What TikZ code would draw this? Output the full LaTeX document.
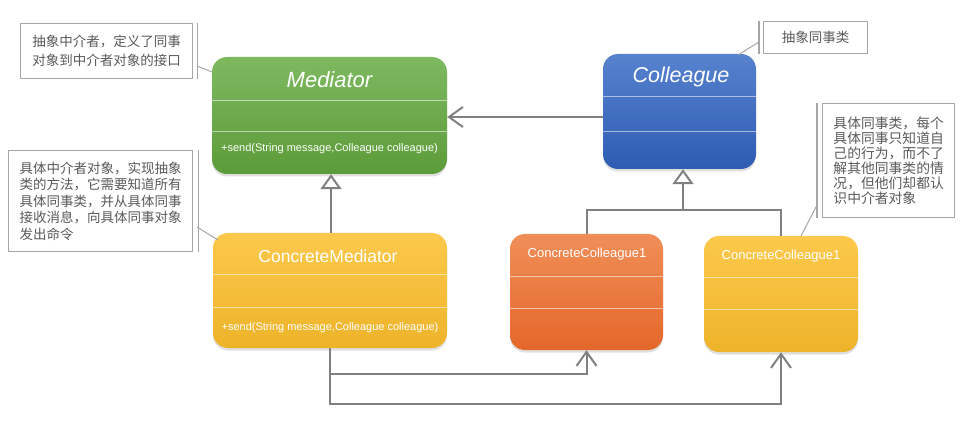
\documentclass[tikz,border=0pt]{standalone}
\usepackage{fontspec}
\setmainfont{Liberation Sans}
\newfontfamily\cjk{Noto Sans CJK SC}
\usetikzlibrary{arrows.meta,shadows}
\definecolor{greenT}{HTML}{7EB960}
\definecolor{greenB}{HTML}{5C9B39}
\definecolor{blueT}{HTML}{5682CE}
\definecolor{blueB}{HTML}{2E5CB2}
\definecolor{orangeT}{HTML}{F08E58}
\definecolor{orangeB}{HTML}{E5672A}
\definecolor{yellowT}{HTML}{FDC94C}
\definecolor{yellowB}{HTML}{EDB32A}
\definecolor{linegray}{HTML}{808080}
\definecolor{notegray}{HTML}{A6A6A6}
\definecolor{notetext}{HTML}{5A5A5A}
\tikzset{
  classbox/.style={rounded corners=15pt, inner sep=0pt,
    drop shadow={shadow xshift=0pt, shadow yshift=-2.5pt, opacity=0.25}},
  divider/.style={draw=white, draw opacity=0.55, line width=0.8pt},
  ctitle/.style={text=white, inner sep=0pt, anchor=center},
  conn/.style={draw=linegray, line width=2pt},
  assoc/.style={conn, -{Straight Barb[length=14pt, width=20pt, line width=2pt]}},
  inherit/.style={conn, -{Triangle[open, length=15pt, width=21pt, line width=2pt, fill=white]}},
  notebox/.style={draw=notegray, line width=1.3pt, fill=white, text=notetext,
    align=left, inner xsep=9pt, inner ysep=0pt, font=\cjk\fontsize{13.5}{19}\selectfont},
  bracket/.style={draw=notegray, line width=1.3pt},
  callout/.style={draw=notegray, line width=1pt},
}
\begin{document}
\begin{tikzpicture}[x=1pt,y=-1pt]
\useasboundingbox (0,0) rectangle (975,422);

% class boxes
\node[classbox, top color=greenT, bottom color=greenB, minimum width=235pt, minimum height=117pt] (med) at (329.5,115.5) {};
\node[classbox, top color=blueT, bottom color=blueB, minimum width=153pt, minimum height=115pt] (col) at (679.5,111.5) {};
\node[classbox, top color=yellowT, bottom color=yellowB, minimum width=234pt, minimum height=115pt] (cm) at (330,290.5) {};
\node[classbox, top color=orangeT, bottom color=orangeB, minimum width=153pt, minimum height=116pt] (cc1) at (586.5,292) {};
\node[classbox, top color=yellowT, bottom color=yellowB, minimum width=154pt, minimum height=116pt] (cc2) at (781,294) {};

% dividers
\draw[divider] (med.west |- 0,100) -- (med.east |- 0,100);
\draw[divider] (med.west |- 0,131) -- (med.east |- 0,131);
\draw[divider] (col.west |- 0,96) -- (col.east |- 0,96);
\draw[divider] (col.west |- 0,131) -- (col.east |- 0,131);
\draw[divider] (cm.west |- 0,274) -- (cm.east |- 0,274);
\draw[divider] (cm.west |- 0,307) -- (cm.east |- 0,307);
\draw[divider] (cc1.west |- 0,276) -- (cc1.east |- 0,276);
\draw[divider] (cc1.west |- 0,308) -- (cc1.east |- 0,308);
\draw[divider] (cc2.west |- 0,277) -- (cc2.east |- 0,277);
\draw[divider] (cc2.west |- 0,309) -- (cc2.east |- 0,309);

% titles
\node[ctitle, font=\fontsize{22}{22}\selectfont\itshape] (medT) at (329.5,80) {Mediator};
\node[ctitle, font=\fontsize{11}{11}\selectfont] (medS) at (329.5,149) {+send(String message,Colleague colleague)};
\node[ctitle, font=\fontsize{21.5}{22}\selectfont\itshape] (colT) at (681,77) {Colleague};
\node[ctitle, font=\fontsize{17.5}{18}\selectfont] (cmT) at (328,256) {ConcreteMediator};
\node[ctitle, font=\fontsize{11}{11}\selectfont] (cmS) at (330,328) {+send(String message,Colleague colleague)};
\node[ctitle, font=\fontsize{13}{13}\selectfont] (cc1T) at (587,254) {ConcreteColleague1};
\node[ctitle, font=\fontsize{13}{13}\selectfont] (cc2T) at (781,256) {ConcreteColleague1};

% connectors
\draw[assoc] (col.west |- 0,117) -- (med.east |- 0,117);
\draw[inherit] (cm.north -| 331,0) -- (med.south -| 331,0);
\coordinate (jn) at (683,210);
\draw[conn] (cc1.north) |- (jn) -| (cc2.north);
\draw[inherit] (jn) -- (jn |- col.south);
\draw[assoc] (cm.south) -- ++(0,26) -| (cc1.south);
\draw[assoc] (cm.south) -- ++(0,56) -| (cc2.south);

% notes
\node[notebox, minimum width=172pt, minimum height=55pt, anchor=north west] (n1) at (20,23)
  {抽象中介者，定义了同事\\对象到中介者对象的接口};
\draw[bracket] ([xshift=4.5pt]n1.north east) -- ([xshift=4.5pt]n1.south east);
\coordinate (n1a) at (197,66);
\draw[callout] (n1a) -- (212,72);

\node[notebox, font=\cjk\fontsize{13.5}{16.4}\selectfont, minimum width=184pt, minimum height=101pt, anchor=north west] (n2) at (8,150)
  {具体中介者对象，实现抽象\\类的方法，它需要知道所有\\具体同事类，并从具体同事\\接收消息，向具体同事对象\\发出命令};
\draw[bracket] ([xshift=5pt]n2.north east) -- ([xshift=5pt]n2.south east);
\coordinate (n2a) at (197,227);
\draw[callout] (n2a) -- (218,240);

\node[notebox, minimum width=104pt, minimum height=32pt, anchor=north west] (n3) at (763,21)
  {抽象同事类};
\draw[bracket] ([xshift=-4pt]n3.north west) -- ([xshift=-4pt]n3.south west);
\coordinate (n3a) at (759,42);
\draw[callout] (n3a) -- (738,55);

\node[notebox, font=\cjk\fontsize{13.8}{15}\selectfont, inner xsep=8pt, minimum width=132pt, minimum height=114pt, anchor=north west] (n4) at (822,103)
  {具体同事类，每个\\具体同事只知道自\\己的行为，而不了\\解其他同事类的情\\况，但他们却都认\\识中介者对象};
\draw[bracket] ([xshift=-5pt]n4.north west) -- ([xshift=-5pt]n4.south west);
\coordinate (n4a) at (817,205);
\draw[callout] (n4a) -- (801,236);
\end{tikzpicture}
\end{document}
